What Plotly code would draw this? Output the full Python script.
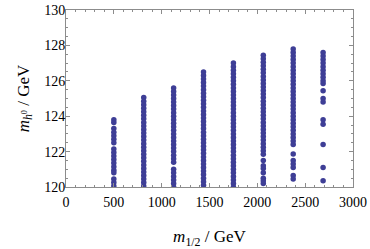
import plotly.graph_objects as go

# m_1/2 values (GeV) of the scan columns
m12 = [500, 812.5, 1125, 1437.5, 1750, 2062.5, 2375, 2687.5]

# Higgs mass values (GeV) read for each column
mh_500 = [123.8, 123.65, 123.3, 123.1, 122.9, 122.7, 122.5, 122.15, 121.95, 121.75,
          121.55, 121.35, 121.15, 120.95, 120.8, 120.45, 120.25, 120.05]
mh_812 = [125.05, 124.85, 124.65, 124.45, 124.25, 124.05, 123.85, 123.65, 123.45, 123.25,
          123.05, 122.85, 122.65, 122.45, 122.25, 122.05, 121.85, 121.65, 121.45, 121.25,
          121.05, 120.85, 120.65, 120.45, 120.25, 120.05]
mh_1125 = [125.6, 125.4, 125.2, 125.0, 124.8, 124.6, 124.4, 124.2, 124.0, 123.8,
           123.6, 123.4, 123.2, 123.0, 122.8, 122.6, 122.4, 122.2, 122.0, 121.8,
           121.6, 121.4, 121.0, 120.8, 120.6, 120.4, 120.2, 120.0]
mh_1437 = [126.5, 126.3, 126.1, 125.9, 125.7, 125.5, 125.3, 125.1, 124.9, 124.7,
           124.5, 124.3, 124.1, 123.9, 123.7, 123.5, 123.3, 123.1, 122.9, 122.7,
           122.5, 122.3, 122.1, 121.9, 121.7, 121.5, 121.3, 121.1, 120.9, 120.7,
           120.5, 120.3, 120.1]
mh_1750 = [127.0, 126.8, 126.6, 126.4, 126.2, 126.0, 125.8, 125.6, 125.4, 125.2,
           125.0, 124.8, 124.6, 124.4, 124.2, 124.0, 123.8, 123.6, 123.4, 123.2,
           123.0, 122.8, 122.6, 122.4, 122.2, 122.0, 121.8, 121.6, 121.4, 121.2,
           121.0, 120.8, 120.6, 120.4, 120.2, 120.0]
mh_2062 = [127.45, 127.25, 127.05, 126.85, 126.65, 126.45, 126.25, 126.05, 125.85, 125.65,
           125.45, 125.25, 125.05, 124.85, 124.65, 124.45, 124.25, 124.05, 123.85, 123.65,
           123.45, 123.25, 123.05, 122.85, 122.65, 122.45, 122.25, 122.05, 121.85,
           121.5, 121.2, 121.05, 120.8, 120.5, 120.35, 120.2]
mh_2375 = [127.8, 127.6, 127.4, 127.2, 127.0, 126.8, 126.6, 126.4, 126.2, 126.0,
           125.8, 125.6, 125.4, 125.2, 125.0, 124.8, 124.6, 124.4, 124.2, 124.0,
           123.8, 123.6, 123.4, 123.2, 123.0, 122.8, 122.6, 122.4,
           121.86, 121.5, 121.3, 121.1, 120.65, 120.45]
mh_2687 = [127.6, 127.4, 127.2, 127.0, 126.8, 126.6, 126.4, 126.2, 126.0, 125.85,
           125.44, 125.0, 124.8, 123.8, 123.55, 122.4, 121.1, 120.36]

columns = [mh_500, mh_812, mh_1125, mh_1437, mh_1750, mh_2062, mh_2375, mh_2687]

x_ticks = [0, 500, 1000, 1500, 2000, 2500, 3000]
y_ticks = [120, 122, 124, 126, 128, 130]

xs, ys = [], []
for m, col in zip(m12, columns):
    xs += [m] * len(col)
    ys += col

color = "rgb(62,62,150)"
frame = "rgb(140,140,140)"
font = dict(family="Liberation Serif, Times New Roman, serif", size=14, color="black")

fig = go.Figure()
fig.add_trace(go.Scatter(x=xs, y=ys, mode="markers",
                         marker=dict(color=color, size=5.5, line=dict(width=0)),
                         showlegend=False, hoverinfo="skip"))

common_x = dict(range=[0, 3000], tickvals=x_ticks, ticks="inside", ticklen=4,
                tickcolor=frame, linecolor=frame, showline=True, showgrid=False,
                zeroline=False, automargin=False,
                minor=dict(dtick=100, ticks="inside", ticklen=2,
                           tickcolor=frame, showgrid=False))
common_y = dict(range=[120, 130], tickvals=y_ticks, ticks="inside", ticklen=4,
                tickcolor=frame, linecolor=frame, showline=True, showgrid=False,
                zeroline=False, automargin=False,
                minor=dict(dtick=0.5, ticks="inside", ticklen=2,
                           tickcolor=frame, showgrid=False))

fig.update_layout(
    width=370, height=249,
    margin=dict(l=66, r=17, t=10, b=62),
    paper_bgcolor="white", plot_bgcolor="white",
    font=font,
    xaxis=dict(**common_x, mirror="allticks", ticklabelstandoff=2,
               title=dict(text="<i>m</i><sub>1/2</sub> / GeV", standoff=22)),
    yaxis=dict(**common_y, mirror="allticks", ticklabelstandoff=-3,
               title=dict(text="<i>m</i><sub><i>h</i><sup>0</sup></sub> / GeV", standoff=10)),
)

fig.write_html("out.html", config={"displayModeBar": False, "staticPlot": True},
               post_script="document.body.style.margin='0';document.body.style.overflow='hidden';")
